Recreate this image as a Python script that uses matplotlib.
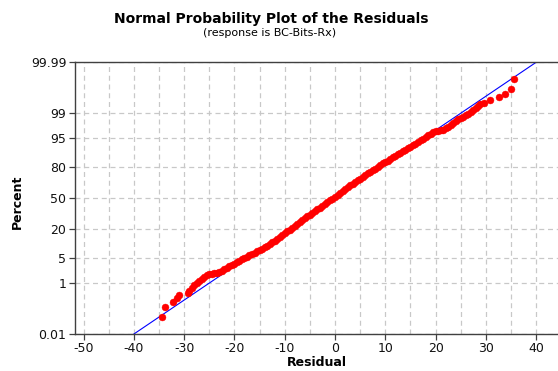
import math
from statistics import NormalDist

import numpy as np
import matplotlib
matplotlib.use("Agg")
import matplotlib.pyplot as plt
from matplotlib.ticker import MultipleLocator, NullLocator

# Ordered residuals and their normal scores
resid = np.array([
    -34.45, -33.7, -32.15, -31.5, -31.0, -29.3,
    -29.0, -28.5, -28.0, -27.5, -27.0, -26.5, -26.0, -25.5, -25.0, -24.5,
    -24.0, -23.5, -23.0, -22.5, -22.0, -21.5, -21.0, -20.5, -20.0, -19.5,
    -19.0, -18.5, -18.0, -17.5, -17.0, -16.5, -16.0, -15.5, -15.0, -14.5,
    -14.0, -13.5, -13.0, -12.5, -12.0, -11.5, -11.0, -10.5, -10.0, -9.5,
    -9.0, -8.5, -8.0, -7.5, -7.0, -6.5, -6.0, -5.5, -5.0, -4.5,
    -4.0, -3.5, -3.0, -2.5, -2.0, -1.5, -1.0, -0.5, 0.0, 0.5,
    1.0, 1.5, 2.0, 2.5, 3.0, 3.5, 4.0, 4.5, 5.0, 5.5,
    6.0, 6.5, 7.0, 7.5, 8.0, 8.5, 9.0, 9.5, 10.0, 10.5,
    11.0, 11.5, 12.0, 12.5, 13.0, 13.5, 14.0, 14.5, 15.0, 15.5,
    16.0, 16.5, 17.0, 17.5, 18.0, 18.5, 19.0, 19.5, 20.0, 20.5,
    21.0, 21.5, 22.0, 22.5, 23.0, 23.5, 24.0, 24.5, 25.0, 25.5,
    26.0, 26.5, 27.0, 27.5, 28.0, 28.5,
    28.8, 29.6, 30.9, 32.6, 33.8, 34.9, 35.6,
])
nscore = np.array([
    -3.25, -2.99, -2.84, -2.74, -2.66, -2.60,
    -2.53, -2.46, -2.39, -2.33, -2.27, -2.21, -2.15, -2.10, -2.08, -2.07,
    -2.06, -2.045, -2.02, -1.99, -1.95, -1.91, -1.87, -1.84, -1.80, -1.75,
    -1.71, -1.67, -1.63, -1.60, -1.56, -1.52, -1.49, -1.45, -1.41, -1.38,
    -1.34, -1.30, -1.26, -1.21, -1.17, -1.12, -1.07, -1.02, -0.96, -0.91,
    -0.86, -0.81, -0.75, -0.70, -0.65, -0.60, -0.55, -0.50, -0.45, -0.40,
    -0.36, -0.31, -0.26, -0.21, -0.16, -0.11, -0.06, -0.01, 0.04, 0.09,
    0.14, 0.195, 0.245, 0.30, 0.35, 0.395, 0.44, 0.49, 0.535, 0.58,
    0.63, 0.675, 0.72, 0.77, 0.81, 0.86, 0.905, 0.95, 0.99, 1.03,
    1.07, 1.115, 1.155, 1.20, 1.24, 1.28, 1.32, 1.365, 1.405, 1.445,
    1.488, 1.534, 1.581, 1.627, 1.674, 1.72, 1.767, 1.813, 1.83, 1.84,
    1.855, 1.87, 1.91, 1.96, 2.01, 2.06, 2.12, 2.16, 2.20, 2.23,
    2.27, 2.31, 2.36, 2.42, 2.48, 2.53,
    2.565, 2.61, 2.68, 2.76, 2.85, 2.99, 3.26,
])

# Fitted normal reference line
fit_mean = 0.0
fit_sd = 10.75

pct_ticks = [0.01, 1, 5, 20, 50, 80, 95, 99, 99.99]
pct_labels = ["0.01", "1", "5", "20", "50", "80", "95", "99", "99.99"]
x_ticks = [-50, -40, -30, -20, -10, 0, 10, 20, 30, 40]

_nd = NormalDist()
_erf = np.vectorize(math.erf, otypes=[float])
_inv = np.vectorize(lambda q: _nd.inv_cdf(min(max(q, 1e-12), 1 - 1e-12)),
                    otypes=[float])


def pct_to_z(p):
    return _inv(np.asarray(p, dtype=float) / 100.0)


def z_to_pct(z):
    return 50.0 * (1.0 + _erf(np.asarray(z, dtype=float) / math.sqrt(2.0)))


plt.rcParams["axes.unicode_minus"] = False
plt.rcParams["font.family"] = ["DejaVu Sans"]

W, H = 558, 371
fig = plt.figure(figsize=(W / 100, H / 100), dpi=100)
left, right, top, bottom = 74.7, 558.0, 62.3, 334.0
ax = fig.add_axes([left / W, 1 - bottom / H, (right - left) / W, (bottom - top) / H])

ax.set_yscale("function", functions=(pct_to_z, z_to_pct))
ax.set_ylim(0.01, 99.99)
ax.set_xlim(-51.75, 44.33)

ax.set_yticks(pct_ticks, pct_labels)
ax.yaxis.set_minor_locator(NullLocator())
ax.set_xticks(x_ticks)
ax.xaxis.set_minor_locator(MultipleLocator(5))

grid_kw = dict(color="#c8c8c8", linestyle=(0, (4, 3)), linewidth=0.9)
ax.grid(True, axis="y", which="major", **grid_kw)
ax.grid(True, axis="x", which="both", **grid_kw)
ax.set_axisbelow(True)

for side in ("left", "bottom", "top"):
    ax.spines[side].set_color("#404040")
    ax.spines[side].set_linewidth(1.0)
ax.spines["right"].set_visible(False)

ax.tick_params(axis="both", which="major", direction="out", length=4,
               width=0.9, color="#404040", labelsize=9, labelcolor="#111111", pad=2)
ax.tick_params(axis="x", which="minor", length=0)

# Reference line from the fitted mean and standard deviation
line_pct = np.array([0.01, 99.99])
line_x = fit_mean + fit_sd * pct_to_z(line_pct)
ax.plot(line_x, line_pct, color="#0000ff", linewidth=0.8, zorder=2)

percent = z_to_pct(nscore)
ax.plot(resid, percent, linestyle="none", marker="o", markersize=5.0,
        markerfacecolor="#ff0000", markeredgecolor="#ff0000",
        markeredgewidth=0.3, zorder=3)

fig.text(271.7 / W, 1 - 18.5 / H, "Normal Probability Plot of the Residuals",
         ha="center", va="center", fontsize=10, fontweight="bold")
fig.text(269.3 / W, 1 - 33.0 / H, "(response is BC-Bits-Rx)",
         ha="center", va="center", fontsize=8)
fig.text(17.5 / W, 1 - 202.0 / H, "Percent", rotation=90,
         ha="center", va="center", fontsize=9, fontweight="bold")
fig.text(316.5 / W, 1 - 363.0 / H, "Residual",
         ha="center", va="center", fontsize=9, fontweight="bold")

fig.savefig("out.png", dpi=100)
